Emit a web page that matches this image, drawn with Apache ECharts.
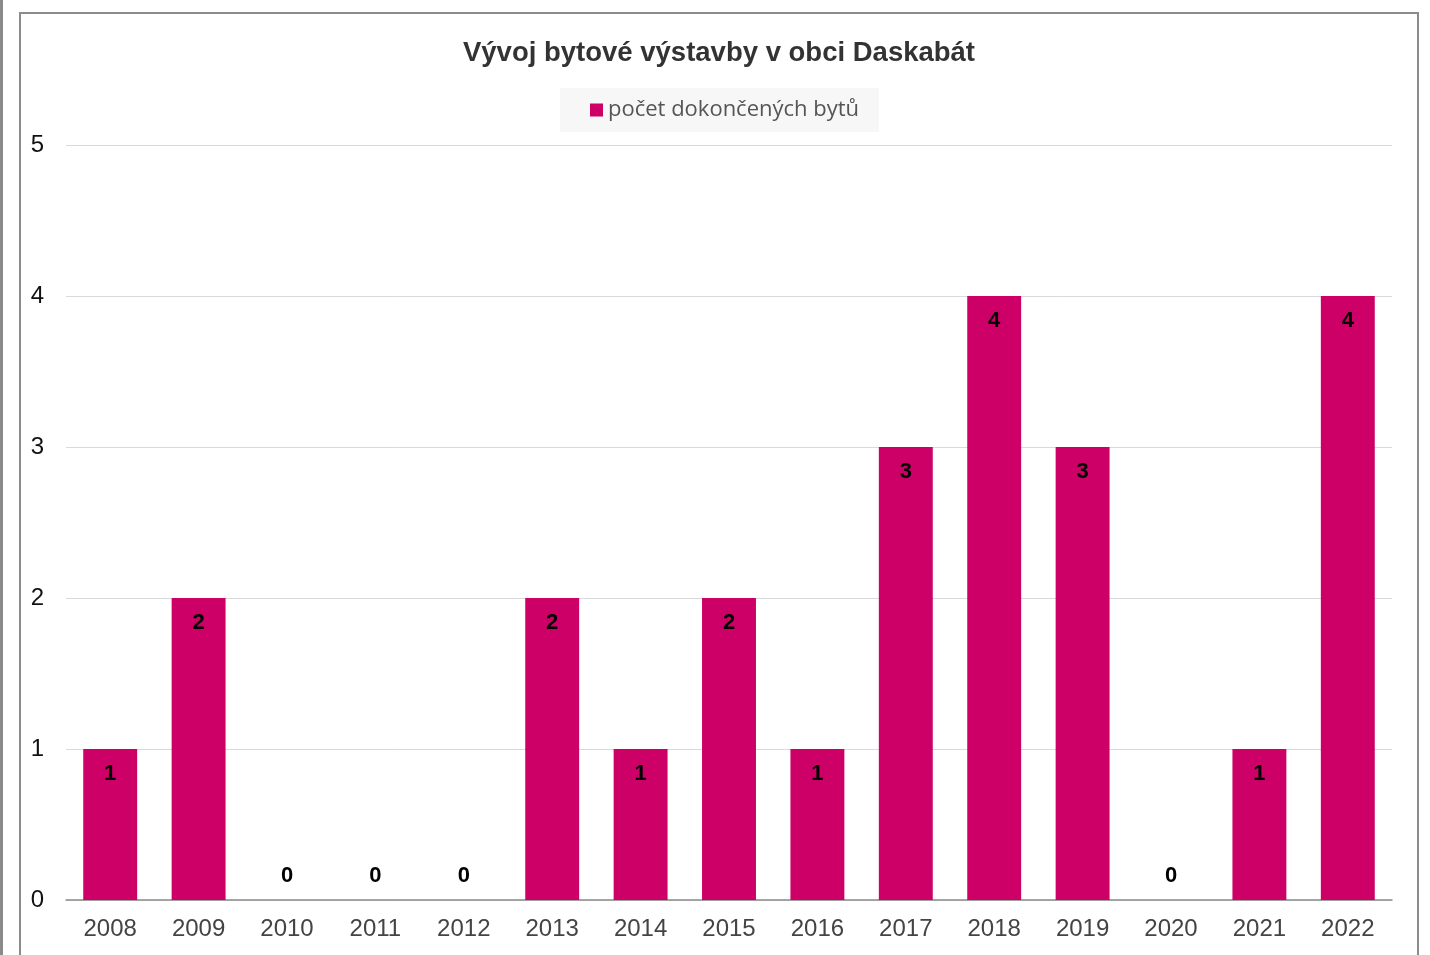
<!DOCTYPE html>
<html>
<head>
<meta charset="utf-8">
<script src="https://cdn.jsdelivr.net/npm/echarts@6/dist/echarts.min.js"></script>
<style>
  html, body { margin: 0; padding: 0; background: #fff; overflow: hidden; }
  #strip { position: absolute; left: 0; top: 0; width: 3px; height: 955px; background: #8a8a8a; }
  #frame { position: absolute; left: 19px; top: 12px; width: 1396px; height: 960px; border: 2px solid #8c8c8c; }
  #main { width: 1396px; height: 941px; }
</style>
</head>
<body>
<div id="strip"></div>
<div id="frame"><div id="main"></div></div>
<script>
// data
var years = ['2008', '2009', '2010', '2011', '2012', '2013', '2014', '2015',
             '2016', '2017', '2018', '2019', '2020', '2021', '2022'];
var flats = [1, 2, 0, 0, 0, 2, 1, 2, 1, 3, 4, 3, 0, 1, 4];
var seriesName = 'počet dokončených bytů';
var titleText = 'Vývoj bytové výstavby v obci Daskabát';

var chart = echarts.init(document.getElementById('main'));

// nulové hodnoty mají popisek nad osou
var barData = flats.map(function (v) {
  if (v === 0) {
    return { value: v, label: { position: 'top', distance: 13 } };
  }
  return v;
});

var option = {
  animation: false,
  title: {
    text: titleText,
    left: 'center',
    top: 20,
    textStyle: {
      fontFamily: 'Liberation Sans',
      fontSize: 27.5,
      fontWeight: 'bold',
      color: '#333'
    }
  },
  legend: {
    top: 74,
    left: 539,
    backgroundColor: '#f7f7f7',
    padding: [11, 20, 11, 30],
    itemWidth: 13,
    itemHeight: 13,
    itemGap: 6,
    icon: 'rect',
    data: [seriesName],
    textStyle: {
      fontFamily: 'Open Sans',
      fontSize: 22,
      color: '#555'
    }
  },
  grid: {
    left: 45,
    right: 25,
    top: 131,
    bottom: 55
  },
  xAxis: {
    type: 'category',
    data: years,
    axisTick: { show: false },
    axisLine: { lineStyle: { color: '#8c8c8c', width: 1.5 } },
    axisLabel: {
      fontFamily: 'Liberation Sans',
      fontSize: 24,
      color: '#444',
      margin: 17
    }
  },
  yAxis: {
    type: 'value',
    min: 0,
    max: 5,
    interval: 1,
    axisLine: { show: false },
    axisTick: { show: false },
    splitLine: { lineStyle: { color: '#d9d9d9', width: 1 } },
    axisLabel: {
      fontFamily: 'Liberation Sans',
      fontSize: 24,
      color: '#111',
      margin: 22
    }
  },
  series: [{
    name: seriesName,
    type: 'bar',
    data: barData,
    barCategoryGap: '39%',
    itemStyle: { color: '#cc0066' },
    label: {
      show: true,
      position: 'insideTop',
      distance: 14,
      fontFamily: 'Liberation Sans',
      fontSize: 22,
      fontWeight: 'bold',
      color: '#000'
    }
  }]
};

chart.setOption(option);
</script>
</body>
</html>
